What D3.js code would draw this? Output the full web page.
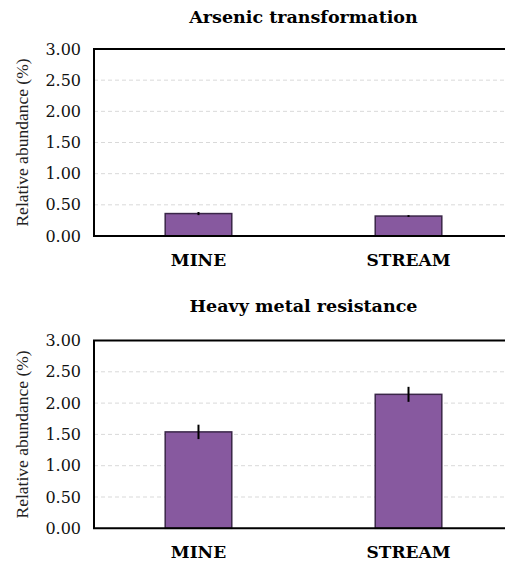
<!DOCTYPE html>
<html>
<head>
<meta charset="utf-8">
<script src="https://cdn.jsdelivr.net/npm/d3@7"></script>
<style>
  html, body { margin: 0; padding: 0; background: #fff; }
  svg { display: block; }
</style>
</head>
<body>
<svg id="chart" width="505" height="564"></svg>
<script>
// Sample sites shown on the x axis
const sites = ["MINE", "STREAM"];

// Arsenic transformation genes: mean relative abundance (%) and error
const arsenicMean = [0.36, 0.32];
const arsenicErr = [0.025, 0.015];

// Heavy metal resistance genes: mean relative abundance (%) and error
const metalMean = [1.54, 2.14];
const metalErr = [0.115, 0.12];

// Shared y axis ticks
const yTicks = [0, 0.5, 1.0, 1.5, 2.0, 2.5, 3.0];

const panels = [
  { title: "Arsenic transformation", mean: arsenicMean, err: arsenicErr, top: 49, bottom: 236, titleY: 23 },
  { title: "Heavy metal resistance", mean: metalMean, err: metalErr, top: 340.5, bottom: 528.3, titleY: 311.5 }
];

const svg = d3.select("#chart");
const left = 94, right = 513;
const barFill = "#87599f", barStroke = "#3a2648";
const serif = "'DejaVu Serif', serif";

const x = d3.scaleBand()
  .domain(sites)
  .range([left, right])
  .paddingInner(0.683)
  .paddingOuter(0.339);

panels.forEach(p => {
  const y = d3.scaleLinear().domain([0, 3]).range([p.bottom, p.top]);
  const g = svg.append("g");

  // dashed horizontal gridlines
  g.append("g")
    .selectAll("line")
    .data(yTicks.filter(t => t > 0 && t < 3))
    .join("line")
    .attr("x1", left).attr("x2", right)
    .attr("y1", d => y(d)).attr("y2", d => y(d))
    .attr("stroke", "#d9d9d9")
    .attr("stroke-width", 1)
    .attr("stroke-dasharray", "4,3");

  // y axis tick labels
  const yAxis = d3.axisLeft(y)
    .tickValues(yTicks)
    .tickFormat(d3.format(".2f"))
    .tickSize(0)
    .tickPadding(13);
  const ya = g.append("g").attr("transform", `translate(${left},0)`).call(yAxis);
  ya.select(".domain").remove();
  ya.selectAll("text")
    .attr("font-family", serif)
    .attr("font-size", 16)
    .attr("fill", "#111");

  // bars
  g.append("g")
    .selectAll("rect")
    .data(sites)
    .join("rect")
    .attr("x", d => x(d))
    .attr("width", x.bandwidth())
    .attr("y", (d, i) => y(p.mean[i]))
    .attr("height", (d, i) => y(0) - y(p.mean[i]))
    .attr("fill", barFill)
    .attr("stroke", barStroke)
    .attr("stroke-width", 1.5);

  // error bars
  g.append("g")
    .selectAll("line")
    .data(sites)
    .join("line")
    .attr("x1", d => x(d) + x.bandwidth() / 2)
    .attr("x2", d => x(d) + x.bandwidth() / 2)
    .attr("y1", (d, i) => y(p.mean[i] + p.err[i]))
    .attr("y2", (d, i) => y(p.mean[i] - p.err[i]))
    .attr("stroke", "#000")
    .attr("stroke-width", 2);

  // frame: left, top and bottom edges
  g.append("path")
    .attr("d", `M${right},${y(3)}H${left}V${y(0)}H${right}`)
    .attr("fill", "none")
    .attr("stroke", "#000")
    .attr("stroke-width", 2);

  // x axis category labels
  const xAxis = d3.axisBottom(x).tickSize(0).tickPadding(18);
  const xa = g.append("g").attr("transform", `translate(0,${y(0)})`).call(xAxis);
  xa.select(".domain").remove();
  xa.selectAll("text")
    .attr("font-family", serif)
    .attr("font-weight", "bold")
    .attr("font-size", 17)
    .attr("fill", "#000");

  // y axis title
  g.append("text")
    .attr("transform", `translate(28,${(y(0) + y(3)) / 2}) rotate(-90)`)
    .attr("text-anchor", "middle")
    .attr("font-family", "'Liberation Serif', serif")
    .attr("font-size", 17.5)
    .attr("fill", "#222")
    .text("Relative abundance (%)");

  // panel title
  g.append("text")
    .attr("x", (left + right) / 2)
    .attr("y", p.titleY)
    .attr("text-anchor", "middle")
    .attr("font-family", serif)
    .attr("font-weight", "bold")
    .attr("font-size", 17.5)
    .attr("fill", "#000")
    .text(p.title);
});
</script>
</body>
</html>
